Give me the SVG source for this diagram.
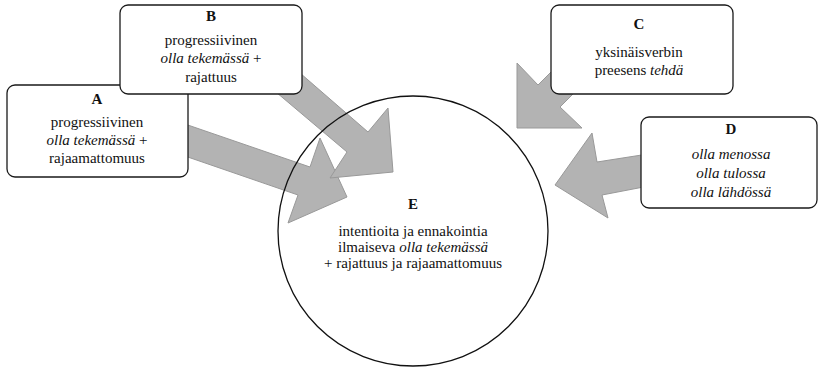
<svg xmlns="http://www.w3.org/2000/svg" width="818" height="368" viewBox="0 0 818 368">
<style>
  .arrow { fill: #b3b3b3; stroke: #999999; stroke-width: 1; stroke-linejoin: miter; }
  .box { fill: #ffffff; stroke: #1a1a1a; stroke-width: 1.3; }
  .circle { fill: none; stroke: #111111; stroke-width: 1.3; }
  .lbl { font-family: 'Liberation Serif', 'Times New Roman', 'DejaVu Serif', serif; font-size: 15px; fill: #111111; text-anchor: middle; }
  .t { font-weight: bold; }
  .i { font-style: italic; }
</style>
<rect width="818" height="368" fill="#ffffff"/>
<g id="connectors">
  <polygon class="arrow" points="150,112 310,167 320,138 347,197 288,223 298,195 150,144"/>
  <polygon class="arrow" points="285,60 368,132 388,108 393,172 330,178 347,152 238,60"/>
  <polygon class="arrow" points="570,53 538,85 517,63 517,128 582,128 560,107 592,75"/>
  <polygon class="arrow" points="680,149 597,162 592,133 555,185 608,218 602,195 680,180"/>
</g>
<g id="nodeE" class="lbl" font-family="Liberation Serif, serif">
  <circle class="circle" cx="413" cy="231" r="135"/>
  <text x="413" y="209" class="t">E</text>
  <text x="413" y="236">intentioita ja ennakointia</text>
  <text x="413" y="252">ilmaiseva <tspan class="i">olla tekemässä</tspan></text>
  <text x="413" y="268">+ rajattuus ja rajaamattomuus</text>
</g>
<g id="nodeA" class="lbl" font-family="Liberation Serif, serif">
  <rect class="box" x="7" y="85" width="181" height="92" rx="8" ry="8"/>
  <text x="97" y="104" class="t">A</text>
  <text x="97" y="127">progressiivinen</text>
  <text x="97" y="145"><tspan class="i">olla tekemässä</tspan> +</text>
  <text x="97" y="163">rajaamattomuus</text>
</g>
<g id="nodeB" class="lbl" font-family="Liberation Serif, serif">
  <rect class="box" x="120" y="5" width="182" height="89" rx="8" ry="8"/>
  <text x="211" y="21" class="t">B</text>
  <text x="211" y="45">progressiivinen</text>
  <text x="211" y="63"><tspan class="i">olla tekemässä</tspan> +</text>
  <text x="211" y="82">rajattuus</text>
</g>
<g id="nodeC" class="lbl" font-family="Liberation Serif, serif">
  <rect class="box" x="551" y="5" width="182" height="89" rx="8" ry="8"/>
  <text x="639" y="29" class="t">C</text>
  <text x="639" y="57">yksinäisverbin</text>
  <text x="639" y="75">preesens <tspan class="i">tehdä</tspan></text>
</g>
<g id="nodeD" class="lbl" font-family="Liberation Serif, serif">
  <rect class="box" x="641" y="117" width="176" height="91" rx="8" ry="8"/>
  <text x="731" y="134" class="t">D</text>
  <text x="731" y="159" class="i">olla menossa</text>
  <text x="731" y="178" class="i">olla tulossa</text>
  <text x="731" y="197" class="i">olla lähdössä</text>
</g>
</svg>
